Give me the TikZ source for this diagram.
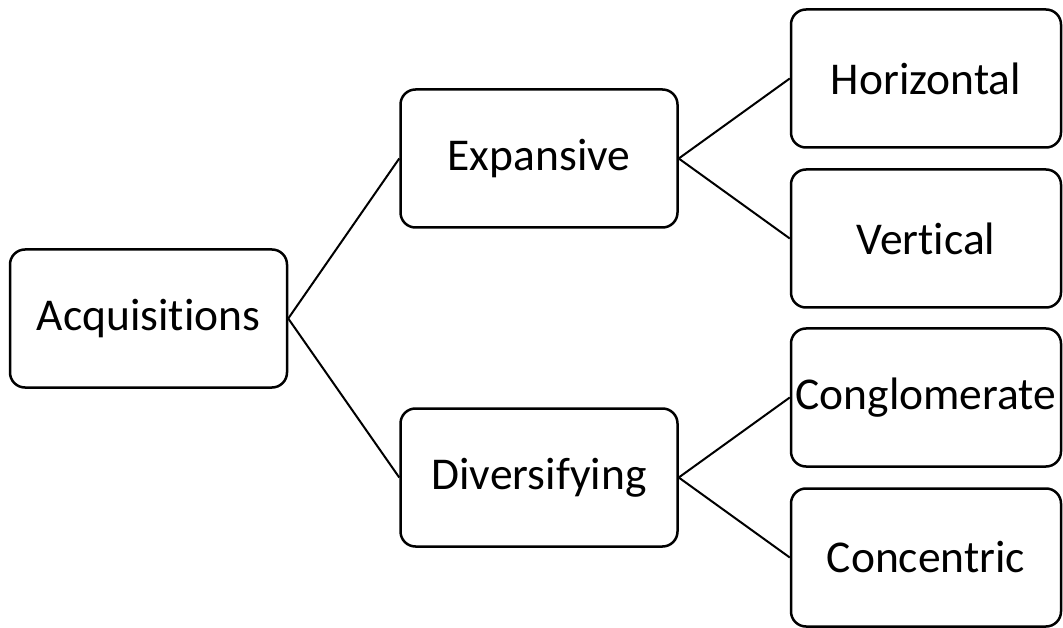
\documentclass[tikz,border=0pt]{standalone}
\usepackage{fontspec}
\setmainfont[Ligatures=NoCommon]{Carlito}
\usepackage{tikz}
\usetikzlibrary{positioning}

\begin{document}
\begin{tikzpicture}[
  x=1pt, y=1pt,
  node distance=111pt,
  box/.style={rectangle, draw=black, fill=white, line width=2.5pt, minimum width=277pt, minimum height=138pt, text centered, rounded corners=15pt, font=\fontsize{45.5}{54}\selectfont},
  leaf/.style={box, minimum width=270pt},
  link/.style={line width=2pt}
]
\useasboundingbox (0,0) rectangle (1063,-628);

% Root and first level
\node (acq) [box] at (148.5,-318.5) {Acquisitions};
\node (exp) [box, right=of acq, yshift=160pt] {Expansive};
\node (div) [box, right=of acq, yshift=-159pt] {Diversifying};

% Second level
\node (hor) [leaf, right=of exp, yshift=80pt] {Horizontal};
\node (ver) [leaf, right=of exp, yshift=-80pt] {Vertical};
\node (con) [leaf, right=of div, yshift=80pt] {Conglomerate};
\node (cen) [leaf, right=of div, yshift=-80pt] {Concentric};

% Connectors
\draw [link] (acq.east) -- (exp.west);
\draw [link] (acq.east) -- (div.west);
\draw [link] (exp.east) -- (hor.west);
\draw [link] (exp.east) -- (ver.west);
\draw [link] (div.east) -- (con.west);
\draw [link] (div.east) -- (cen.west);

\end{tikzpicture}
\end{document}
